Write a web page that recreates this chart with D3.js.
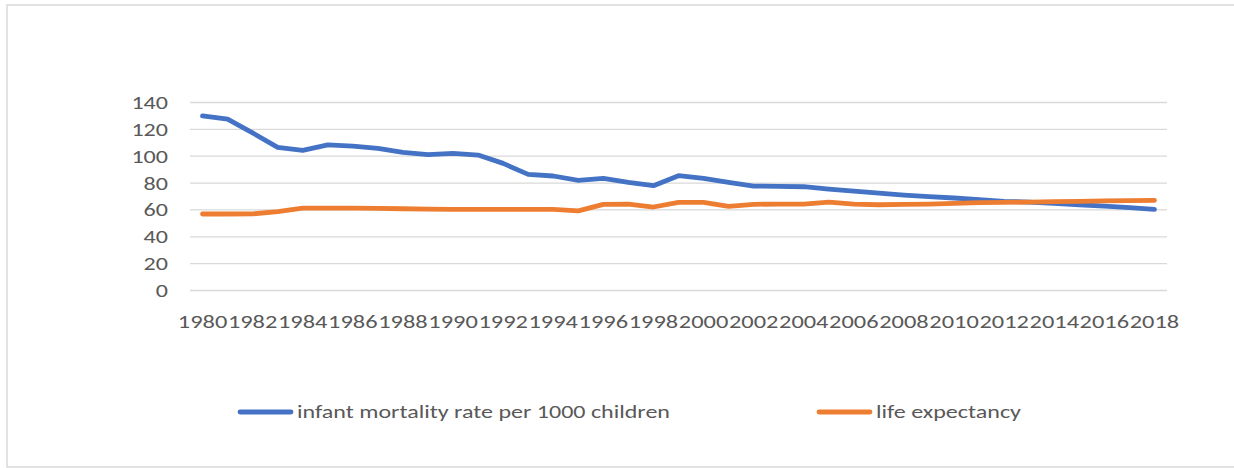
<!DOCTYPE html>
<html>
<head>
<meta charset="utf-8">
<script src="https://cdn.jsdelivr.net/npm/d3@7"></script>
<style>
  html, body { margin: 0; padding: 0; background: #fff; }
  svg { display: block; }
  text { font-family: Carlito, Calibri, "Liberation Sans", Arial, sans-serif; fill: #595959; }
</style>
</head>
<body>
<div id="chart"></div>
<script>
const years = [1980,1981,1982,1983,1984,1985,1986,1987,1988,1989,1990,1991,1992,1993,1994,1995,1996,1997,1998,1999,2000,2001,2002,2003,2004,2005,2006,2007,2008,2009,2010,2011,2012,2013,2014,2015,2016,2017,2018];
const infantMortality = [129.6,127.3,117,106.2,104,108,107.2,105.5,102.5,100.8,101.8,100.5,94.3,86.1,84.9,81.7,83.2,80.2,77.7,85.1,83.2,80.2,77.4,77.2,76.9,75.2,73.7,72.2,70.7,69.6,68.5,67.3,66,65.5,64.5,63.5,62.5,61.3,60];
const lifeExpectancy = [56.6,56.6,56.7,58.3,61,61,61,60.8,60.5,60.3,60.1,60,60,60,60,58.9,63.8,64,61.8,65.2,65.2,62.3,63.8,64,64,65.5,64,63.5,63.8,64,64.5,65,65.2,65.5,65.8,66,66.3,66.5,66.8];
const yTicks = [0,20,40,60,80,100,120,140];
const xTickLabels = years.filter(y => y % 2 === 0);
const seriesNames = ["infant mortality rate per 1000 children", "life expectancy"];
const seriesColors = ["#4472C4", "#ED7D31"];

const W = 1234, H = 468;
const svg = d3.select("#chart").append("svg").attr("width", W).attr("height", H);

// frame (right edge runs off the picture)
svg.append("rect").attr("x", 7).attr("y", 5).attr("width", 1300).attr("height", 462)
  .attr("fill", "none").attr("stroke", "#d9d9d9").attr("stroke-width", 1.5);

const x = d3.scaleBand().domain(years).range([190, 1167]).padding(0);
const y = d3.scaleLinear().domain([0, 140]).range([290, 102]);
const cx = d => x(d) + x.bandwidth() / 2;

// gridlines
const yAxis = d3.axisLeft(y).tickValues(yTicks).tickSize(-(1167 - 190)).tickPadding(22).tickFormat(d3.format("d"));
const gy = svg.append("g").attr("transform", "translate(190,0)").call(yAxis);
gy.select(".domain").remove();
gy.selectAll(".tick line").attr("stroke", "#d9d9d9").attr("stroke-width", 1.3);
gy.selectAll(".tick text").attr("font-size", 18).style("font-family", null).attr("fill", "#595959")
  .attr("dy", "0.36em")
  .each(function(d) { d3.select(this).attr("textLength", String(d).length * 12.2).attr("lengthAdjust", "spacingAndGlyphs"); });

// x axis labels
const xAxis = d3.axisBottom(x).tickValues(xTickLabels).tickSize(0).tickPadding(0);
const gx = svg.append("g").attr("transform", "translate(0,290)").call(xAxis);
gx.select(".domain").remove();
gx.selectAll(".tick text").attr("font-size", 18).style("font-family", null).attr("fill", "#595959")
  .attr("y", 32).attr("dy", "0.36em")
  .attr("textLength", 49.5).attr("lengthAdjust", "spacingAndGlyphs");

// lines
const line = d3.line().x((d, i) => cx(years[i])).y(d => y(d));
[infantMortality, lifeExpectancy].forEach((vals, k) => {
  svg.append("path").datum(vals).attr("d", line)
    .attr("fill", "none").attr("stroke", seriesColors[k]).attr("stroke-width", 4.8)
    .attr("stroke-linecap", "round").attr("stroke-linejoin", "round");
});

// legend
const legendItems = [
  { x0: 240, x1: 291, tx: 297, tl: 373 },
  { x0: 819, x1: 870, tx: 876, tl: 145 }
];
legendItems.forEach((it, k) => {
  svg.append("line").attr("x1", it.x0).attr("x2", it.x1).attr("y1", 412).attr("y2", 412)
    .attr("stroke", seriesColors[k]).attr("stroke-width", 4.8).attr("stroke-linecap", "round");
  svg.append("text").attr("x", it.tx).attr("y", 412).attr("dy", "0.36em")
    .attr("font-size", 18).attr("textLength", it.tl).attr("lengthAdjust", "spacingAndGlyphs")
    .text(seriesNames[k]);
});
</script>
</body>
</html>
